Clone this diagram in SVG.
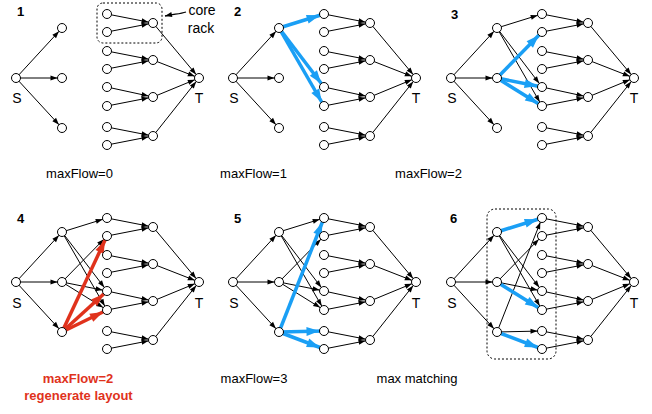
<svg xmlns="http://www.w3.org/2000/svg" width="652" height="414" viewBox="0 0 652 414">
<style>
text{font-family:"Liberation Sans",Arial,Helvetica,sans-serif}
.n{fill:#fff;stroke:#000;stroke-width:1}
.e{stroke:#000;stroke-width:1;fill:none;marker-end:url(#ah)}
.b{stroke:#1a9ff5;stroke-width:3.5;fill:none;marker-end:url(#ahb)}
.r{stroke:#e0321c;stroke-width:3.5;fill:none;marker-end:url(#ahr)}
.lb{font-size:14px;text-anchor:middle;fill:#000}
.num{font-size:13px;font-weight:bold;fill:#000}
.cap{font-size:13px;text-anchor:middle;fill:#000}
.capr{font-size:13px;text-anchor:middle;fill:#e0321c;font-weight:bold}
.box{fill:none;stroke:#000;stroke-width:1;stroke-dasharray:2 2}
</style>
<defs>
<marker id="ah" markerUnits="userSpaceOnUse" markerWidth="8" markerHeight="6" refX="11.5" refY="2.5" orient="auto" overflow="visible"><path d="M0,0L7,2.5L0,5z" fill="#000"/></marker>
<marker id="ahc" markerUnits="userSpaceOnUse" markerWidth="8" markerHeight="6" refX="7" refY="2.5" orient="auto" overflow="visible"><path d="M0,0L7,2.5L0,5z" fill="#000"/></marker>
<marker id="ahb" markerUnits="userSpaceOnUse" markerWidth="14" markerHeight="10" refX="17.5" refY="4.5" orient="auto" overflow="visible"><path d="M0,0L13,4.5L0,9z" fill="#1a9ff5"/></marker>
<marker id="ahr" markerUnits="userSpaceOnUse" markerWidth="14" markerHeight="10" refX="17.5" refY="4.5" orient="auto" overflow="visible"><path d="M0,0L13,4.5L0,9z" fill="#e0321c"/></marker>
</defs>

<!-- Panel 1 -->
<g id="panel1">
<text class="num" x="17" y="15.5">1</text>
<g id="p1-connectors">
<line class="e" x1="16" y1="78" x2="62" y2="28"/><line class="e" x1="16" y1="78" x2="62" y2="78"/><line class="e" x1="16" y1="78" x2="62" y2="128"/>
<line class="e" x1="107" y1="14" x2="153" y2="23"/><line class="e" x1="107" y1="32" x2="153" y2="23"/>
<line class="e" x1="107" y1="51" x2="153" y2="60"/><line class="e" x1="107" y1="69" x2="153" y2="60"/>
<line class="e" x1="107" y1="87" x2="153" y2="97"/><line class="e" x1="107" y1="106" x2="153" y2="97"/>
<line class="e" x1="107" y1="127" x2="153" y2="136"/><line class="e" x1="107" y1="145" x2="153" y2="136"/>
<line class="e" x1="153" y1="23" x2="199" y2="78"/><line class="e" x1="153" y1="60" x2="199" y2="78"/><line class="e" x1="153" y1="97" x2="199" y2="78"/><line class="e" x1="153" y1="136" x2="199" y2="78"/>
<path d="M186,12 C180,14 174,14 165,16" fill="none" stroke="#000" stroke-width="1.3" marker-end="url(#ahc)"/>
</g>
<rect id="p1-corerack" class="box" x="97" y="3" width="65" height="40" rx="6"/>
<text class="lb" x="202" y="15">core</text>
<text class="lb" x="201" y="33">rack</text>
<g id="p1-S"><circle class="n" cx="16" cy="78" r="4.5"/><text class="lb" x="17" y="103">S</text></g>
<g id="p1-a1"><circle class="n" cx="62" cy="28" r="4.5"/></g>
<g id="p1-a2"><circle class="n" cx="62" cy="78" r="4.5"/></g>
<g id="p1-a3"><circle class="n" cx="62" cy="128" r="4.5"/></g>
<g id="p1-r1"><circle class="n" cx="107" cy="14" r="4.5"/></g>
<g id="p1-r2"><circle class="n" cx="107" cy="32" r="4.5"/></g>
<g id="p1-r3"><circle class="n" cx="107" cy="51" r="4.5"/></g>
<g id="p1-r4"><circle class="n" cx="107" cy="69" r="4.5"/></g>
<g id="p1-r5"><circle class="n" cx="107" cy="87" r="4.5"/></g>
<g id="p1-r6"><circle class="n" cx="107" cy="106" r="4.5"/></g>
<g id="p1-r7"><circle class="n" cx="107" cy="127" r="4.5"/></g>
<g id="p1-r8"><circle class="n" cx="107" cy="145" r="4.5"/></g>
<g id="p1-c1"><circle class="n" cx="153" cy="23" r="4.5"/></g>
<g id="p1-c2"><circle class="n" cx="153" cy="60" r="4.5"/></g>
<g id="p1-c3"><circle class="n" cx="153" cy="97" r="4.5"/></g>
<g id="p1-c4"><circle class="n" cx="153" cy="136" r="4.5"/></g>
<g id="p1-T"><circle class="n" cx="199" cy="78" r="4.5"/><text class="lb" x="199" y="103">T</text></g>
<text class="cap" x="79.5" y="178">maxFlow=0</text>
</g>

<!-- Panel 2 -->
<g id="panel2" transform="translate(217,0)">
<text class="num" x="17" y="15.5">2</text>
<g id="p2-connectors">
<line class="e" x1="16" y1="78" x2="62" y2="28"/><line class="e" x1="16" y1="78" x2="62" y2="78"/><line class="e" x1="16" y1="78" x2="62" y2="128"/>
<line class="e" x1="107" y1="14" x2="153" y2="23"/><line class="e" x1="107" y1="32" x2="153" y2="23"/>
<line class="e" x1="107" y1="51" x2="153" y2="60"/><line class="e" x1="107" y1="69" x2="153" y2="60"/>
<line class="e" x1="107" y1="87" x2="153" y2="97"/><line class="e" x1="107" y1="106" x2="153" y2="97"/>
<line class="e" x1="107" y1="127" x2="153" y2="136"/><line class="e" x1="107" y1="145" x2="153" y2="136"/>
<line class="e" x1="153" y1="23" x2="199" y2="78"/><line class="e" x1="153" y1="60" x2="199" y2="78"/><line class="e" x1="153" y1="97" x2="199" y2="78"/><line class="e" x1="153" y1="136" x2="199" y2="78"/>
<line class="b" x1="62" y1="28" x2="107" y2="14"/>
<line class="b" x1="62" y1="28" x2="107" y2="87"/>
<line class="b" x1="62" y1="28" x2="107" y2="106"/>
</g>
<g id="p2-S"><circle class="n" cx="16" cy="78" r="4.5"/><text class="lb" x="17" y="103">S</text></g>
<g id="p2-a1"><circle class="n" cx="62" cy="28" r="4.5"/></g>
<g id="p2-a2"><circle class="n" cx="62" cy="78" r="4.5"/></g>
<g id="p2-a3"><circle class="n" cx="62" cy="128" r="4.5"/></g>
<g id="p2-r1"><circle class="n" cx="107" cy="14" r="4.5"/></g>
<g id="p2-r2"><circle class="n" cx="107" cy="32" r="4.5"/></g>
<g id="p2-r3"><circle class="n" cx="107" cy="51" r="4.5"/></g>
<g id="p2-r4"><circle class="n" cx="107" cy="69" r="4.5"/></g>
<g id="p2-r5"><circle class="n" cx="107" cy="87" r="4.5"/></g>
<g id="p2-r6"><circle class="n" cx="107" cy="106" r="4.5"/></g>
<g id="p2-r7"><circle class="n" cx="107" cy="127" r="4.5"/></g>
<g id="p2-r8"><circle class="n" cx="107" cy="145" r="4.5"/></g>
<g id="p2-c1"><circle class="n" cx="153" cy="23" r="4.5"/></g>
<g id="p2-c2"><circle class="n" cx="153" cy="60" r="4.5"/></g>
<g id="p2-c3"><circle class="n" cx="153" cy="97" r="4.5"/></g>
<g id="p2-c4"><circle class="n" cx="153" cy="136" r="4.5"/></g>
<g id="p2-T"><circle class="n" cx="199" cy="78" r="4.5"/><text class="lb" x="199" y="103">T</text></g>
<text class="cap" x="36.5" y="178">maxFlow=1</text>
</g>

<!-- Panel 3 -->
<g id="panel3" transform="translate(435,0)">
<text class="num" x="16" y="18.5">3</text>
<g id="p3-connectors">
<line class="e" x1="16" y1="78" x2="62" y2="28"/><line class="e" x1="16" y1="78" x2="62" y2="78"/><line class="e" x1="16" y1="78" x2="62" y2="128"/>
<line class="e" x1="107" y1="14" x2="153" y2="23"/><line class="e" x1="107" y1="32" x2="153" y2="23"/>
<line class="e" x1="107" y1="51" x2="153" y2="60"/><line class="e" x1="107" y1="69" x2="153" y2="60"/>
<line class="e" x1="107" y1="87" x2="153" y2="97"/><line class="e" x1="107" y1="106" x2="153" y2="97"/>
<line class="e" x1="107" y1="127" x2="153" y2="136"/><line class="e" x1="107" y1="145" x2="153" y2="136"/>
<line class="e" x1="153" y1="23" x2="199" y2="78"/><line class="e" x1="153" y1="60" x2="199" y2="78"/><line class="e" x1="153" y1="97" x2="199" y2="78"/><line class="e" x1="153" y1="136" x2="199" y2="78"/>
<line class="e" x1="62" y1="28" x2="107" y2="14"/>
<line class="e" x1="62" y1="28" x2="107" y2="87"/>
<line class="e" x1="62" y1="28" x2="107" y2="106"/>
<line class="b" x1="62" y1="78" x2="107" y2="32"/>
<line class="b" x1="62" y1="78" x2="107" y2="87"/>
<line class="b" x1="62" y1="78" x2="107" y2="106"/>
</g>
<g id="p3-S"><circle class="n" cx="16" cy="78" r="4.5"/><text class="lb" x="17" y="103">S</text></g>
<g id="p3-a1"><circle class="n" cx="62" cy="28" r="4.5"/></g>
<g id="p3-a2"><circle class="n" cx="62" cy="78" r="4.5"/></g>
<g id="p3-a3"><circle class="n" cx="62" cy="128" r="4.5"/></g>
<g id="p3-r1"><circle class="n" cx="107" cy="14" r="4.5"/></g>
<g id="p3-r2"><circle class="n" cx="107" cy="32" r="4.5"/></g>
<g id="p3-r3"><circle class="n" cx="107" cy="51" r="4.5"/></g>
<g id="p3-r4"><circle class="n" cx="107" cy="69" r="4.5"/></g>
<g id="p3-r5"><circle class="n" cx="107" cy="87" r="4.5"/></g>
<g id="p3-r6"><circle class="n" cx="107" cy="106" r="4.5"/></g>
<g id="p3-r7"><circle class="n" cx="107" cy="127" r="4.5"/></g>
<g id="p3-r8"><circle class="n" cx="107" cy="145" r="4.5"/></g>
<g id="p3-c1"><circle class="n" cx="153" cy="23" r="4.5"/></g>
<g id="p3-c2"><circle class="n" cx="153" cy="60" r="4.5"/></g>
<g id="p3-c3"><circle class="n" cx="153" cy="97" r="4.5"/></g>
<g id="p3-c4"><circle class="n" cx="153" cy="136" r="4.5"/></g>
<g id="p3-T"><circle class="n" cx="199" cy="78" r="4.5"/><text class="lb" x="199" y="103">T</text></g>
<text class="cap" x="-6.5" y="178">maxFlow=2</text>
</g>

<!-- Panel 4 -->
<g id="panel4" transform="translate(0,204)">
<text class="num" x="17" y="19">4</text>
<g id="p4-connectors">
<line class="e" x1="16" y1="78" x2="62" y2="28"/><line class="e" x1="16" y1="78" x2="62" y2="78"/><line class="e" x1="16" y1="78" x2="62" y2="128"/>
<line class="e" x1="107" y1="14" x2="153" y2="23"/><line class="e" x1="107" y1="32" x2="153" y2="23"/>
<line class="e" x1="107" y1="51" x2="153" y2="60"/><line class="e" x1="107" y1="69" x2="153" y2="60"/>
<line class="e" x1="107" y1="87" x2="153" y2="97"/><line class="e" x1="107" y1="106" x2="153" y2="97"/>
<line class="e" x1="107" y1="127" x2="153" y2="136"/><line class="e" x1="107" y1="145" x2="153" y2="136"/>
<line class="e" x1="153" y1="23" x2="199" y2="78"/><line class="e" x1="153" y1="60" x2="199" y2="78"/><line class="e" x1="153" y1="97" x2="199" y2="78"/><line class="e" x1="153" y1="136" x2="199" y2="78"/>
<line class="e" x1="62" y1="28" x2="107" y2="14"/>
<line class="e" x1="62" y1="28" x2="107" y2="87"/>
<line class="e" x1="62" y1="28" x2="107" y2="106"/>
<line class="e" x1="62" y1="78" x2="107" y2="32"/>
<line class="e" x1="62" y1="78" x2="107" y2="87"/>
<line class="e" x1="62" y1="78" x2="107" y2="106"/>
<line class="r" x1="62" y1="128" x2="107" y2="32"/>
<line class="r" x1="62" y1="128" x2="107" y2="87"/>
<line class="r" x1="62" y1="128" x2="107" y2="106"/>
</g>
<g id="p4-S"><circle class="n" cx="16" cy="78" r="4.5"/><text class="lb" x="17" y="104">S</text></g>
<g id="p4-a1"><circle class="n" cx="62" cy="28" r="4.5"/></g>
<g id="p4-a2"><circle class="n" cx="62" cy="78" r="4.5"/></g>
<g id="p4-a3"><circle class="n" cx="62" cy="128" r="4.5"/></g>
<g id="p4-r1"><circle class="n" cx="107" cy="14" r="4.5"/></g>
<g id="p4-r2"><circle class="n" cx="107" cy="32" r="4.5"/></g>
<g id="p4-r3"><circle class="n" cx="107" cy="51" r="4.5"/></g>
<g id="p4-r4"><circle class="n" cx="107" cy="69" r="4.5"/></g>
<g id="p4-r5"><circle class="n" cx="107" cy="87" r="4.5"/></g>
<g id="p4-r6"><circle class="n" cx="107" cy="106" r="4.5"/></g>
<g id="p4-r7"><circle class="n" cx="107" cy="127" r="4.5"/></g>
<g id="p4-r8"><circle class="n" cx="107" cy="145" r="4.5"/></g>
<g id="p4-c1"><circle class="n" cx="153" cy="23" r="4.5"/></g>
<g id="p4-c2"><circle class="n" cx="153" cy="60" r="4.5"/></g>
<g id="p4-c3"><circle class="n" cx="153" cy="97" r="4.5"/></g>
<g id="p4-c4"><circle class="n" cx="153" cy="136" r="4.5"/></g>
<g id="p4-T"><circle class="n" cx="199" cy="78" r="4.5"/><text class="lb" x="199" y="104">T</text></g>
<text class="capr" x="78" y="178.5">maxFlow=2</text>
<text class="capr" x="78.5" y="196">regenerate layout</text>
</g>

<!-- Panel 5 -->
<g id="panel5" transform="translate(217,204)">
<text class="num" x="17" y="19">5</text>
<g id="p5-connectors">
<line class="e" x1="16" y1="78" x2="62" y2="28"/><line class="e" x1="16" y1="78" x2="62" y2="78"/><line class="e" x1="16" y1="78" x2="62" y2="128"/>
<line class="e" x1="107" y1="14" x2="153" y2="23"/><line class="e" x1="107" y1="32" x2="153" y2="23"/>
<line class="e" x1="107" y1="51" x2="153" y2="60"/><line class="e" x1="107" y1="69" x2="153" y2="60"/>
<line class="e" x1="107" y1="87" x2="153" y2="97"/><line class="e" x1="107" y1="106" x2="153" y2="97"/>
<line class="e" x1="107" y1="127" x2="153" y2="136"/><line class="e" x1="107" y1="145" x2="153" y2="136"/>
<line class="e" x1="153" y1="23" x2="199" y2="78"/><line class="e" x1="153" y1="60" x2="199" y2="78"/><line class="e" x1="153" y1="97" x2="199" y2="78"/><line class="e" x1="153" y1="136" x2="199" y2="78"/>
<line class="e" x1="62" y1="28" x2="107" y2="14"/>
<line class="e" x1="62" y1="28" x2="107" y2="87"/>
<line class="e" x1="62" y1="28" x2="107" y2="106"/>
<line class="e" x1="62" y1="78" x2="107" y2="32"/>
<line class="e" x1="62" y1="78" x2="107" y2="87"/>
<line class="e" x1="62" y1="78" x2="107" y2="106"/>
<line class="b" x1="62" y1="128" x2="107" y2="14"/>
<line class="b" x1="62" y1="128" x2="107" y2="127"/>
<line class="b" x1="62" y1="128" x2="107" y2="145"/>
</g>
<g id="p5-S"><circle class="n" cx="16" cy="78" r="4.5"/><text class="lb" x="17" y="104">S</text></g>
<g id="p5-a1"><circle class="n" cx="62" cy="28" r="4.5"/></g>
<g id="p5-a2"><circle class="n" cx="62" cy="78" r="4.5"/></g>
<g id="p5-a3"><circle class="n" cx="62" cy="128" r="4.5"/></g>
<g id="p5-r1"><circle class="n" cx="107" cy="14" r="4.5"/></g>
<g id="p5-r2"><circle class="n" cx="107" cy="32" r="4.5"/></g>
<g id="p5-r3"><circle class="n" cx="107" cy="51" r="4.5"/></g>
<g id="p5-r4"><circle class="n" cx="107" cy="69" r="4.5"/></g>
<g id="p5-r5"><circle class="n" cx="107" cy="87" r="4.5"/></g>
<g id="p5-r6"><circle class="n" cx="107" cy="106" r="4.5"/></g>
<g id="p5-r7"><circle class="n" cx="107" cy="127" r="4.5"/></g>
<g id="p5-r8"><circle class="n" cx="107" cy="145" r="4.5"/></g>
<g id="p5-c1"><circle class="n" cx="153" cy="23" r="4.5"/></g>
<g id="p5-c2"><circle class="n" cx="153" cy="60" r="4.5"/></g>
<g id="p5-c3"><circle class="n" cx="153" cy="97" r="4.5"/></g>
<g id="p5-c4"><circle class="n" cx="153" cy="136" r="4.5"/></g>
<g id="p5-T"><circle class="n" cx="199" cy="78" r="4.5"/><text class="lb" x="199" y="104">T</text></g>
<text class="cap" x="37" y="178.5">maxFlow=3</text>
</g>

<!-- Panel 6 -->
<g id="panel6" transform="translate(435,204)">
<text class="num" x="15" y="19">6</text>
<g id="p6-connectors">
<line class="e" x1="16" y1="78" x2="62" y2="28"/><line class="e" x1="16" y1="78" x2="62" y2="78"/><line class="e" x1="16" y1="78" x2="62" y2="128"/>
<line class="e" x1="107" y1="14" x2="153" y2="23"/><line class="e" x1="107" y1="32" x2="153" y2="23"/>
<line class="e" x1="107" y1="51" x2="153" y2="60"/><line class="e" x1="107" y1="69" x2="153" y2="60"/>
<line class="e" x1="107" y1="87" x2="153" y2="97"/><line class="e" x1="107" y1="106" x2="153" y2="97"/>
<line class="e" x1="107" y1="127" x2="153" y2="136"/><line class="e" x1="107" y1="145" x2="153" y2="136"/>
<line class="e" x1="153" y1="23" x2="199" y2="78"/><line class="e" x1="153" y1="60" x2="199" y2="78"/><line class="e" x1="153" y1="97" x2="199" y2="78"/><line class="e" x1="153" y1="136" x2="199" y2="78"/>
<line class="e" x1="62" y1="28" x2="107" y2="87"/>
<line class="e" x1="62" y1="28" x2="107" y2="106"/>
<line class="e" x1="62" y1="78" x2="107" y2="32"/>
<line class="e" x1="62" y1="78" x2="107" y2="87"/>
<line class="e" x1="62" y1="128" x2="107" y2="14"/>
<line class="e" x1="62" y1="128" x2="107" y2="127"/>
<line class="b" x1="62" y1="28" x2="107" y2="14"/>
<line class="b" x1="62" y1="78" x2="107" y2="106"/>
<line class="b" x1="62" y1="128" x2="107" y2="145"/>
</g>
<rect id="p6-matching" class="box" x="52" y="5" width="69" height="150" rx="8"/>
<g id="p6-S"><circle class="n" cx="16" cy="78" r="4.5"/><text class="lb" x="17" y="104">S</text></g>
<g id="p6-a1"><circle class="n" cx="62" cy="28" r="4.5"/></g>
<g id="p6-a2"><circle class="n" cx="62" cy="78" r="4.5"/></g>
<g id="p6-a3"><circle class="n" cx="62" cy="128" r="4.5"/></g>
<g id="p6-r1"><circle class="n" cx="107" cy="14" r="4.5"/></g>
<g id="p6-r2"><circle class="n" cx="107" cy="32" r="4.5"/></g>
<g id="p6-r3"><circle class="n" cx="107" cy="51" r="4.5"/></g>
<g id="p6-r4"><circle class="n" cx="107" cy="69" r="4.5"/></g>
<g id="p6-r5"><circle class="n" cx="107" cy="87" r="4.5"/></g>
<g id="p6-r6"><circle class="n" cx="107" cy="106" r="4.5"/></g>
<g id="p6-r7"><circle class="n" cx="107" cy="127" r="4.5"/></g>
<g id="p6-r8"><circle class="n" cx="107" cy="145" r="4.5"/></g>
<g id="p6-c1"><circle class="n" cx="153" cy="23" r="4.5"/></g>
<g id="p6-c2"><circle class="n" cx="153" cy="60" r="4.5"/></g>
<g id="p6-c3"><circle class="n" cx="153" cy="97" r="4.5"/></g>
<g id="p6-c4"><circle class="n" cx="153" cy="136" r="4.5"/></g>
<g id="p6-T"><circle class="n" cx="199" cy="78" r="4.5"/><text class="lb" x="199" y="104">T</text></g>
<text class="cap" x="-18" y="178.5">max matching</text>
</g>
</svg>
